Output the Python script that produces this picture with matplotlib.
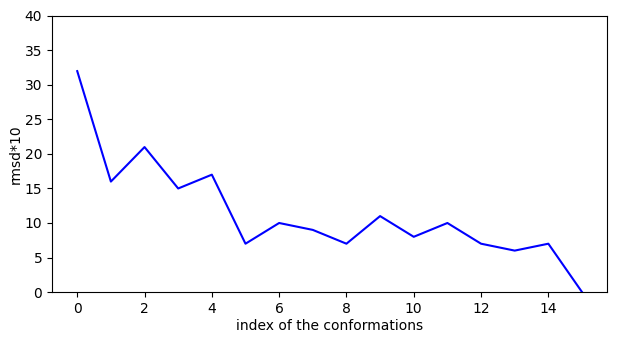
import matplotlib
matplotlib.use("Agg")
import matplotlib.pyplot as plt

# rmsd values per conformation (times 10)
conformation_index = list(range(16))
rmsd_x10 = [32, 16, 21, 15, 17, 7, 10, 9, 7, 11, 8, 10, 7, 6, 7, 0]

fig = plt.figure(figsize=(6.19, 3.38), dpi=100)
ax = fig.add_axes([0.084, 0.136, 0.897, 0.817])
ax.plot(conformation_index, rmsd_x10, color='blue')
ax.set_ylim(0, 40)
ax.set_xlabel('index of the conformations', labelpad=2)
ax.set_ylabel('rmsd*10', labelpad=1.5)
fig.savefig('out.png', dpi=100)
